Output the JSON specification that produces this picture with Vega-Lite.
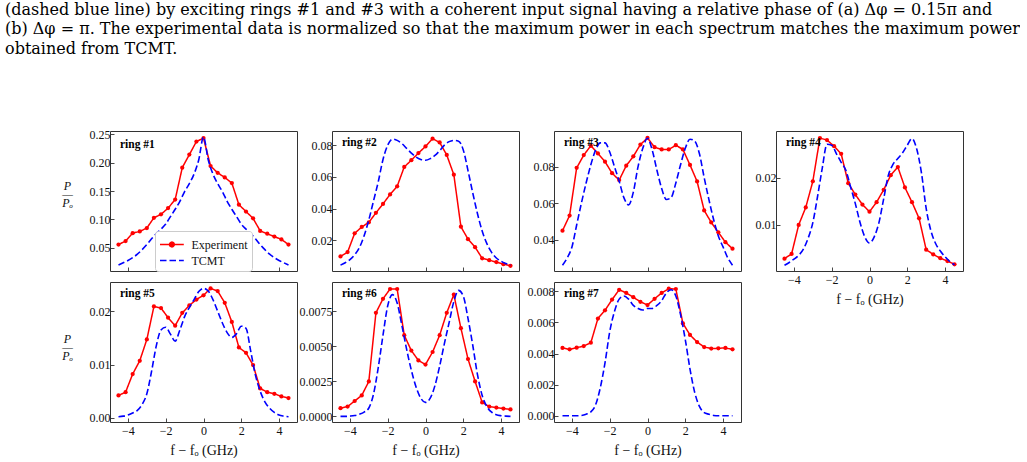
{
  "$schema": "https://vega.github.io/schema/vega-lite/v6.json",
  "background": "white",
  "padding": {"left": 5, "top": 1, "right": 0, "bottom": 0},
  "title": {
    "text": ["(dashed blue line) by exciting rings #1 and #3 with a coherent input signal having a relative phase of (a) Δφ = 0.15π and", "(b) Δφ = π. The experimental data is normalized so that the maximum power in each spectrum matches the maximum power", "obtained from TCMT."],
    "anchor": "start", "frame": "group", "dx": -105, "offset": 55, "baseline": "bottom",
    "font": "DejaVu Serif", "fontSize": 16, "fontWeight": "normal", "lineHeight": 19.5, "color": "#000"
  },
  "columns": 4,
  "align": "none",
  "bounds": "flush",
  "spacing": {"row": 11, "column": 35},
  "datasets": {
    "e1": [{"f":-4.5,"p":0.056,"s":"Experiment"},{"f":-4.125,"p":0.062,"s":"Experiment"},{"f":-3.75,"p":0.076,"s":"Experiment"},{"f":-3.375,"p":0.079,"s":"Experiment"},{"f":-3.0,"p":0.085,"s":"Experiment"},{"f":-2.625,"p":0.103,"s":"Experiment"},{"f":-2.25,"p":0.109,"s":"Experiment"},{"f":-1.875,"p":0.120,"s":"Experiment"},{"f":-1.5,"p":0.135,"s":"Experiment"},{"f":-1.125,"p":0.191,"s":"Experiment"},{"f":-0.75,"p":0.214,"s":"Experiment"},{"f":-0.375,"p":0.237,"s":"Experiment"},{"f":0,"p":0.243,"s":"Experiment"},{"f":0.375,"p":0.194,"s":"Experiment"},{"f":0.75,"p":0.182,"s":"Experiment"},{"f":1.125,"p":0.174,"s":"Experiment"},{"f":1.5,"p":0.164,"s":"Experiment"},{"f":1.875,"p":0.126,"s":"Experiment"},{"f":2.25,"p":0.114,"s":"Experiment"},{"f":2.625,"p":0.102,"s":"Experiment"},{"f":3.0,"p":0.080,"s":"Experiment"},{"f":3.375,"p":0.075,"s":"Experiment"},{"f":3.75,"p":0.070,"s":"Experiment"},{"f":4.125,"p":0.065,"s":"Experiment"},{"f":4.5,"p":0.056,"s":"Experiment"}],
    "t1": [{"f":-4.5,"p":0.020,"s":"TCMT"},{"f":-4.25,"p":0.024,"s":"TCMT"},{"f":-4,"p":0.028,"s":"TCMT"},{"f":-3.75,"p":0.033,"s":"TCMT"},{"f":-3.5,"p":0.039,"s":"TCMT"},{"f":-3.25,"p":0.047,"s":"TCMT"},{"f":-3,"p":0.056,"s":"TCMT"},{"f":-2.75,"p":0.066,"s":"TCMT"},{"f":-2.5,"p":0.075,"s":"TCMT"},{"f":-2.25,"p":0.083,"s":"TCMT"},{"f":-2,"p":0.092,"s":"TCMT"},{"f":-1.75,"p":0.105,"s":"TCMT"},{"f":-1.5,"p":0.118,"s":"TCMT"},{"f":-1.25,"p":0.132,"s":"TCMT"},{"f":-1,"p":0.149,"s":"TCMT"},{"f":-0.75,"p":0.163,"s":"TCMT"},{"f":-0.5,"p":0.180,"s":"TCMT"},{"f":-0.25,"p":0.205,"s":"TCMT"},{"f":0,"p":0.245,"s":"TCMT"},{"f":0.25,"p":0.205,"s":"TCMT"},{"f":0.5,"p":0.180,"s":"TCMT"},{"f":0.75,"p":0.163,"s":"TCMT"},{"f":1,"p":0.149,"s":"TCMT"},{"f":1.25,"p":0.132,"s":"TCMT"},{"f":1.5,"p":0.118,"s":"TCMT"},{"f":1.75,"p":0.105,"s":"TCMT"},{"f":2,"p":0.092,"s":"TCMT"},{"f":2.25,"p":0.083,"s":"TCMT"},{"f":2.5,"p":0.075,"s":"TCMT"},{"f":2.75,"p":0.066,"s":"TCMT"},{"f":3,"p":0.056,"s":"TCMT"},{"f":3.25,"p":0.047,"s":"TCMT"},{"f":3.5,"p":0.039,"s":"TCMT"},{"f":3.75,"p":0.033,"s":"TCMT"},{"f":4,"p":0.028,"s":"TCMT"},{"f":4.25,"p":0.024,"s":"TCMT"},{"f":4.5,"p":0.020,"s":"TCMT"}],
    "e2": [{"f":-4.5,"p":0.010,"s":"Experiment"},{"f":-4.125,"p":0.0127,"s":"Experiment"},{"f":-3.75,"p":0.0245,"s":"Experiment"},{"f":-3.375,"p":0.0285,"s":"Experiment"},{"f":-3.0,"p":0.0314,"s":"Experiment"},{"f":-2.625,"p":0.0374,"s":"Experiment"},{"f":-2.25,"p":0.043,"s":"Experiment"},{"f":-1.875,"p":0.049,"s":"Experiment"},{"f":-1.5,"p":0.0541,"s":"Experiment"},{"f":-1.125,"p":0.0663,"s":"Experiment"},{"f":-0.75,"p":0.0705,"s":"Experiment"},{"f":-0.375,"p":0.075,"s":"Experiment"},{"f":0,"p":0.0792,"s":"Experiment"},{"f":0.375,"p":0.0841,"s":"Experiment"},{"f":0.75,"p":0.0817,"s":"Experiment"},{"f":1.125,"p":0.0738,"s":"Experiment"},{"f":1.5,"p":0.0614,"s":"Experiment"},{"f":1.875,"p":0.0287,"s":"Experiment"},{"f":2.25,"p":0.0208,"s":"Experiment"},{"f":2.625,"p":0.0158,"s":"Experiment"},{"f":3.0,"p":0.0088,"s":"Experiment"},{"f":3.375,"p":0.0076,"s":"Experiment"},{"f":3.75,"p":0.0064,"s":"Experiment"},{"f":4.125,"p":0.0051,"s":"Experiment"},{"f":4.5,"p":0.0041,"s":"Experiment"}],
    "t2": [{"f":-4.5,"p":0.0045,"s":"TCMT"},{"f":-4.25,"p":0.006,"s":"TCMT"},{"f":-4,"p":0.008,"s":"TCMT"},{"f":-3.75,"p":0.011,"s":"TCMT"},{"f":-3.5,"p":0.0155,"s":"TCMT"},{"f":-3.25,"p":0.023,"s":"TCMT"},{"f":-3,"p":0.033,"s":"TCMT"},{"f":-2.75,"p":0.045,"s":"TCMT"},{"f":-2.5,"p":0.057,"s":"TCMT"},{"f":-2.25,"p":0.071,"s":"TCMT"},{"f":-2,"p":0.080,"s":"TCMT"},{"f":-1.75,"p":0.0838,"s":"TCMT"},{"f":-1.5,"p":0.083,"s":"TCMT"},{"f":-1.25,"p":0.081,"s":"TCMT"},{"f":-1,"p":0.078,"s":"TCMT"},{"f":-0.75,"p":0.075,"s":"TCMT"},{"f":-0.5,"p":0.0725,"s":"TCMT"},{"f":-0.25,"p":0.071,"s":"TCMT"},{"f":0,"p":0.0705,"s":"TCMT"},{"f":0.25,"p":0.0715,"s":"TCMT"},{"f":0.5,"p":0.0735,"s":"TCMT"},{"f":0.75,"p":0.0765,"s":"TCMT"},{"f":1,"p":0.080,"s":"TCMT"},{"f":1.25,"p":0.0822,"s":"TCMT"},{"f":1.5,"p":0.083,"s":"TCMT"},{"f":1.75,"p":0.0825,"s":"TCMT"},{"f":2,"p":0.077,"s":"TCMT"},{"f":2.25,"p":0.064,"s":"TCMT"},{"f":2.5,"p":0.050,"s":"TCMT"},{"f":2.75,"p":0.037,"s":"TCMT"},{"f":3,"p":0.026,"s":"TCMT"},{"f":3.25,"p":0.018,"s":"TCMT"},{"f":3.5,"p":0.0125,"s":"TCMT"},{"f":3.75,"p":0.009,"s":"TCMT"},{"f":4,"p":0.007,"s":"TCMT"},{"f":4.25,"p":0.0055,"s":"TCMT"},{"f":4.5,"p":0.0045,"s":"TCMT"}],
    "e3": [{"f":-4.5,"p":0.0449,"s":"Experiment"},{"f":-4.125,"p":0.0532,"s":"Experiment"},{"f":-3.75,"p":0.0793,"s":"Experiment"},{"f":-3.375,"p":0.0863,"s":"Experiment"},{"f":-3.0,"p":0.0914,"s":"Experiment"},{"f":-2.625,"p":0.0872,"s":"Experiment"},{"f":-2.25,"p":0.0827,"s":"Experiment"},{"f":-1.875,"p":0.0764,"s":"Experiment"},{"f":-1.5,"p":0.0726,"s":"Experiment"},{"f":-1.125,"p":0.0805,"s":"Experiment"},{"f":-0.75,"p":0.0856,"s":"Experiment"},{"f":-0.375,"p":0.0921,"s":"Experiment"},{"f":0,"p":0.0957,"s":"Experiment"},{"f":0.375,"p":0.0906,"s":"Experiment"},{"f":0.75,"p":0.0894,"s":"Experiment"},{"f":1.125,"p":0.0894,"s":"Experiment"},{"f":1.5,"p":0.0917,"s":"Experiment"},{"f":1.875,"p":0.0894,"s":"Experiment"},{"f":2.25,"p":0.0809,"s":"Experiment"},{"f":2.625,"p":0.0719,"s":"Experiment"},{"f":3.0,"p":0.056,"s":"Experiment"},{"f":3.375,"p":0.0494,"s":"Experiment"},{"f":3.75,"p":0.044,"s":"Experiment"},{"f":4.125,"p":0.0386,"s":"Experiment"},{"f":4.5,"p":0.035,"s":"Experiment"}],
    "t3": [{"f":-4.5,"p":0.026,"s":"TCMT"},{"f":-4.25,"p":0.030,"s":"TCMT"},{"f":-4,"p":0.036,"s":"TCMT"},{"f":-3.75,"p":0.048,"s":"TCMT"},{"f":-3.5,"p":0.060,"s":"TCMT"},{"f":-3.25,"p":0.071,"s":"TCMT"},{"f":-3,"p":0.081,"s":"TCMT"},{"f":-2.75,"p":0.089,"s":"TCMT"},{"f":-2.5,"p":0.093,"s":"TCMT"},{"f":-2.25,"p":0.093,"s":"TCMT"},{"f":-2,"p":0.088,"s":"TCMT"},{"f":-1.75,"p":0.080,"s":"TCMT"},{"f":-1.5,"p":0.072,"s":"TCMT"},{"f":-1.25,"p":0.063,"s":"TCMT"},{"f":-1,"p":0.059,"s":"TCMT"},{"f":-0.75,"p":0.066,"s":"TCMT"},{"f":-0.5,"p":0.080,"s":"TCMT"},{"f":-0.25,"p":0.090,"s":"TCMT"},{"f":0,"p":0.0955,"s":"TCMT"},{"f":0.25,"p":0.089,"s":"TCMT"},{"f":0.5,"p":0.078,"s":"TCMT"},{"f":0.75,"p":0.068,"s":"TCMT"},{"f":1,"p":0.062,"s":"TCMT"},{"f":1.25,"p":0.063,"s":"TCMT"},{"f":1.5,"p":0.071,"s":"TCMT"},{"f":1.75,"p":0.081,"s":"TCMT"},{"f":2,"p":0.090,"s":"TCMT"},{"f":2.25,"p":0.095,"s":"TCMT"},{"f":2.5,"p":0.094,"s":"TCMT"},{"f":2.75,"p":0.087,"s":"TCMT"},{"f":3,"p":0.074,"s":"TCMT"},{"f":3.25,"p":0.062,"s":"TCMT"},{"f":3.5,"p":0.051,"s":"TCMT"},{"f":3.75,"p":0.042,"s":"TCMT"},{"f":4,"p":0.036,"s":"TCMT"},{"f":4.25,"p":0.030,"s":"TCMT"},{"f":4.5,"p":0.026,"s":"TCMT"}],
    "e4": [{"f":-4.5,"p":0.0029,"s":"Experiment"},{"f":-4.125,"p":0.0039,"s":"Experiment"},{"f":-3.75,"p":0.010,"s":"Experiment"},{"f":-3.375,"p":0.0137,"s":"Experiment"},{"f":-3.0,"p":0.0192,"s":"Experiment"},{"f":-2.625,"p":0.0283,"s":"Experiment"},{"f":-2.25,"p":0.0279,"s":"Experiment"},{"f":-1.875,"p":0.0266,"s":"Experiment"},{"f":-1.5,"p":0.025,"s":"Experiment"},{"f":-1.125,"p":0.0188,"s":"Experiment"},{"f":-0.75,"p":0.0164,"s":"Experiment"},{"f":-0.375,"p":0.0143,"s":"Experiment"},{"f":0,"p":0.0128,"s":"Experiment"},{"f":0.375,"p":0.0148,"s":"Experiment"},{"f":0.75,"p":0.0174,"s":"Experiment"},{"f":1.125,"p":0.0205,"s":"Experiment"},{"f":1.5,"p":0.0222,"s":"Experiment"},{"f":1.875,"p":0.0179,"s":"Experiment"},{"f":2.25,"p":0.0148,"s":"Experiment"},{"f":2.625,"p":0.0114,"s":"Experiment"},{"f":3.0,"p":0.0048,"s":"Experiment"},{"f":3.375,"p":0.0038,"s":"Experiment"},{"f":3.75,"p":0.003,"s":"Experiment"},{"f":4.125,"p":0.0024,"s":"Experiment"},{"f":4.5,"p":0.0017,"s":"Experiment"}],
    "t4": [{"f":-4.5,"p":0.0015,"s":"TCMT"},{"f":-4.25,"p":0.0021,"s":"TCMT"},{"f":-4,"p":0.0028,"s":"TCMT"},{"f":-3.75,"p":0.0036,"s":"TCMT"},{"f":-3.5,"p":0.0049,"s":"TCMT"},{"f":-3.25,"p":0.0072,"s":"TCMT"},{"f":-3,"p":0.0105,"s":"TCMT"},{"f":-2.75,"p":0.016,"s":"TCMT"},{"f":-2.5,"p":0.022,"s":"TCMT"},{"f":-2.25,"p":0.027,"s":"TCMT"},{"f":-2,"p":0.0268,"s":"TCMT"},{"f":-1.75,"p":0.025,"s":"TCMT"},{"f":-1.5,"p":0.0232,"s":"TCMT"},{"f":-1.25,"p":0.0215,"s":"TCMT"},{"f":-1,"p":0.018,"s":"TCMT"},{"f":-0.75,"p":0.0145,"s":"TCMT"},{"f":-0.5,"p":0.0105,"s":"TCMT"},{"f":-0.25,"p":0.0075,"s":"TCMT"},{"f":0,"p":0.0062,"s":"TCMT"},{"f":0.25,"p":0.0075,"s":"TCMT"},{"f":0.5,"p":0.0105,"s":"TCMT"},{"f":0.75,"p":0.0155,"s":"TCMT"},{"f":1,"p":0.0205,"s":"TCMT"},{"f":1.25,"p":0.0228,"s":"TCMT"},{"f":1.5,"p":0.024,"s":"TCMT"},{"f":1.75,"p":0.0252,"s":"TCMT"},{"f":2,"p":0.0268,"s":"TCMT"},{"f":2.25,"p":0.0282,"s":"TCMT"},{"f":2.5,"p":0.026,"s":"TCMT"},{"f":2.75,"p":0.021,"s":"TCMT"},{"f":3,"p":0.0135,"s":"TCMT"},{"f":3.25,"p":0.0088,"s":"TCMT"},{"f":3.5,"p":0.0061,"s":"TCMT"},{"f":3.75,"p":0.0045,"s":"TCMT"},{"f":4,"p":0.0033,"s":"TCMT"},{"f":4.25,"p":0.0023,"s":"TCMT"},{"f":4.5,"p":0.0016,"s":"TCMT"}],
    "e5": [{"f":-4.5,"p":0.0042,"s":"Experiment"},{"f":-4.125,"p":0.0048,"s":"Experiment"},{"f":-3.75,"p":0.0082,"s":"Experiment"},{"f":-3.375,"p":0.0107,"s":"Experiment"},{"f":-3.0,"p":0.0147,"s":"Experiment"},{"f":-2.625,"p":0.0209,"s":"Experiment"},{"f":-2.25,"p":0.0206,"s":"Experiment"},{"f":-1.875,"p":0.0188,"s":"Experiment"},{"f":-1.5,"p":0.0173,"s":"Experiment"},{"f":-1.125,"p":0.0197,"s":"Experiment"},{"f":-0.75,"p":0.0211,"s":"Experiment"},{"f":-0.375,"p":0.0222,"s":"Experiment"},{"f":0,"p":0.023,"s":"Experiment"},{"f":0.375,"p":0.0243,"s":"Experiment"},{"f":0.75,"p":0.0238,"s":"Experiment"},{"f":1.125,"p":0.0216,"s":"Experiment"},{"f":1.5,"p":0.018,"s":"Experiment"},{"f":1.875,"p":0.0132,"s":"Experiment"},{"f":2.25,"p":0.0122,"s":"Experiment"},{"f":2.625,"p":0.0099,"s":"Experiment"},{"f":3.0,"p":0.0055,"s":"Experiment"},{"f":3.375,"p":0.0048,"s":"Experiment"},{"f":3.75,"p":0.0045,"s":"Experiment"},{"f":4.125,"p":0.004,"s":"Experiment"},{"f":4.5,"p":0.0037,"s":"Experiment"}],
    "t5": [{"f":-4.5,"p":0.0002,"s":"TCMT"},{"f":-4.25,"p":0.0003,"s":"TCMT"},{"f":-4,"p":0.0005,"s":"TCMT"},{"f":-3.75,"p":0.0009,"s":"TCMT"},{"f":-3.5,"p":0.0014,"s":"TCMT"},{"f":-3.25,"p":0.0025,"s":"TCMT"},{"f":-3,"p":0.0045,"s":"TCMT"},{"f":-2.75,"p":0.0087,"s":"TCMT"},{"f":-2.5,"p":0.0135,"s":"TCMT"},{"f":-2.25,"p":0.0165,"s":"TCMT"},{"f":-2,"p":0.0170,"s":"TCMT"},{"f":-1.75,"p":0.0157,"s":"TCMT"},{"f":-1.5,"p":0.0144,"s":"TCMT"},{"f":-1.25,"p":0.0165,"s":"TCMT"},{"f":-1,"p":0.0190,"s":"TCMT"},{"f":-0.75,"p":0.0207,"s":"TCMT"},{"f":-0.5,"p":0.0222,"s":"TCMT"},{"f":-0.25,"p":0.0237,"s":"TCMT"},{"f":0,"p":0.0243,"s":"TCMT"},{"f":0.25,"p":0.0238,"s":"TCMT"},{"f":0.5,"p":0.0222,"s":"TCMT"},{"f":0.75,"p":0.0200,"s":"TCMT"},{"f":1,"p":0.0178,"s":"TCMT"},{"f":1.25,"p":0.0160,"s":"TCMT"},{"f":1.5,"p":0.0151,"s":"TCMT"},{"f":1.75,"p":0.0158,"s":"TCMT"},{"f":2,"p":0.0172,"s":"TCMT"},{"f":2.25,"p":0.0168,"s":"TCMT"},{"f":2.5,"p":0.0125,"s":"TCMT"},{"f":2.75,"p":0.0080,"s":"TCMT"},{"f":3,"p":0.0050,"s":"TCMT"},{"f":3.25,"p":0.0030,"s":"TCMT"},{"f":3.5,"p":0.0018,"s":"TCMT"},{"f":3.75,"p":0.0010,"s":"TCMT"},{"f":4,"p":0.0005,"s":"TCMT"},{"f":4.25,"p":0.0003,"s":"TCMT"},{"f":4.5,"p":0.0002,"s":"TCMT"}],
    "e6": [{"f":-4.5,"p":0.00059,"s":"Experiment"},{"f":-4.125,"p":0.0007,"s":"Experiment"},{"f":-3.75,"p":0.0011,"s":"Experiment"},{"f":-3.375,"p":0.0015,"s":"Experiment"},{"f":-3.0,"p":0.0025,"s":"Experiment"},{"f":-2.625,"p":0.0074,"s":"Experiment"},{"f":-2.25,"p":0.0084,"s":"Experiment"},{"f":-1.875,"p":0.0091,"s":"Experiment"},{"f":-1.5,"p":0.0091,"s":"Experiment"},{"f":-1.125,"p":0.0058,"s":"Experiment"},{"f":-0.75,"p":0.0047,"s":"Experiment"},{"f":-0.375,"p":0.004,"s":"Experiment"},{"f":0,"p":0.0037,"s":"Experiment"},{"f":0.375,"p":0.0046,"s":"Experiment"},{"f":0.75,"p":0.0058,"s":"Experiment"},{"f":1.125,"p":0.0074,"s":"Experiment"},{"f":1.5,"p":0.0087,"s":"Experiment"},{"f":1.875,"p":0.0063,"s":"Experiment"},{"f":2.25,"p":0.0041,"s":"Experiment"},{"f":2.625,"p":0.0025,"s":"Experiment"},{"f":3.0,"p":0.001,"s":"Experiment"},{"f":3.375,"p":0.0007,"s":"Experiment"},{"f":3.75,"p":0.00063,"s":"Experiment"},{"f":4.125,"p":0.00056,"s":"Experiment"},{"f":4.5,"p":0.0005,"s":"Experiment"}],
    "t6": [{"f":-4.5,"p":0.0,"s":"TCMT"},{"f":-4.25,"p":0.0,"s":"TCMT"},{"f":-4,"p":0.00002,"s":"TCMT"},{"f":-3.75,"p":0.00006,"s":"TCMT"},{"f":-3.5,"p":0.00015,"s":"TCMT"},{"f":-3.25,"p":0.0003,"s":"TCMT"},{"f":-3,"p":0.0006,"s":"TCMT"},{"f":-2.75,"p":0.0016,"s":"TCMT"},{"f":-2.5,"p":0.0035,"s":"TCMT"},{"f":-2.25,"p":0.0058,"s":"TCMT"},{"f":-2,"p":0.0079,"s":"TCMT"},{"f":-1.75,"p":0.0087,"s":"TCMT"},{"f":-1.5,"p":0.0081,"s":"TCMT"},{"f":-1.25,"p":0.0065,"s":"TCMT"},{"f":-1,"p":0.0048,"s":"TCMT"},{"f":-0.75,"p":0.0033,"s":"TCMT"},{"f":-0.5,"p":0.0021,"s":"TCMT"},{"f":-0.25,"p":0.0013,"s":"TCMT"},{"f":0,"p":0.0010,"s":"TCMT"},{"f":0.25,"p":0.0013,"s":"TCMT"},{"f":0.5,"p":0.0022,"s":"TCMT"},{"f":0.75,"p":0.0036,"s":"TCMT"},{"f":1,"p":0.0052,"s":"TCMT"},{"f":1.25,"p":0.0067,"s":"TCMT"},{"f":1.5,"p":0.0082,"s":"TCMT"},{"f":1.75,"p":0.0090,"s":"TCMT"},{"f":2,"p":0.0086,"s":"TCMT"},{"f":2.25,"p":0.0070,"s":"TCMT"},{"f":2.5,"p":0.0051,"s":"TCMT"},{"f":2.75,"p":0.0030,"s":"TCMT"},{"f":3,"p":0.0015,"s":"TCMT"},{"f":3.25,"p":0.0007,"s":"TCMT"},{"f":3.5,"p":0.0003,"s":"TCMT"},{"f":3.75,"p":0.00012,"s":"TCMT"},{"f":4,"p":0.00005,"s":"TCMT"},{"f":4.25,"p":0.00002,"s":"TCMT"},{"f":4.5,"p":0.0,"s":"TCMT"}],
    "e7": [{"f":-4.5,"p":0.00436,"s":"Experiment"},{"f":-4.125,"p":0.00427,"s":"Experiment"},{"f":-3.75,"p":0.00438,"s":"Experiment"},{"f":-3.375,"p":0.00448,"s":"Experiment"},{"f":-3.0,"p":0.0047,"s":"Experiment"},{"f":-2.625,"p":0.00625,"s":"Experiment"},{"f":-2.25,"p":0.00678,"s":"Experiment"},{"f":-1.875,"p":0.00747,"s":"Experiment"},{"f":-1.5,"p":0.0081,"s":"Experiment"},{"f":-1.125,"p":0.0079,"s":"Experiment"},{"f":-0.75,"p":0.00762,"s":"Experiment"},{"f":-0.375,"p":0.00733,"s":"Experiment"},{"f":0,"p":0.00712,"s":"Experiment"},{"f":0.375,"p":0.00752,"s":"Experiment"},{"f":0.75,"p":0.0079,"s":"Experiment"},{"f":1.125,"p":0.00817,"s":"Experiment"},{"f":1.5,"p":0.00815,"s":"Experiment"},{"f":1.875,"p":0.00594,"s":"Experiment"},{"f":2.25,"p":0.0052,"s":"Experiment"},{"f":2.625,"p":0.00474,"s":"Experiment"},{"f":3.0,"p":0.00442,"s":"Experiment"},{"f":3.375,"p":0.00432,"s":"Experiment"},{"f":3.75,"p":0.00434,"s":"Experiment"},{"f":4.125,"p":0.00436,"s":"Experiment"},{"f":4.5,"p":0.00427,"s":"Experiment"}],
    "t7": [{"f":-4.5,"p":0.0,"s":"TCMT"},{"f":-4.25,"p":0.0,"s":"TCMT"},{"f":-4,"p":0.0,"s":"TCMT"},{"f":-3.75,"p":0.0,"s":"TCMT"},{"f":-3.5,"p":0.00002,"s":"TCMT"},{"f":-3.25,"p":0.0001,"s":"TCMT"},{"f":-3,"p":0.00025,"s":"TCMT"},{"f":-2.75,"p":0.0007,"s":"TCMT"},{"f":-2.5,"p":0.0018,"s":"TCMT"},{"f":-2.25,"p":0.0034,"s":"TCMT"},{"f":-2,"p":0.0054,"s":"TCMT"},{"f":-1.75,"p":0.0067,"s":"TCMT"},{"f":-1.5,"p":0.0075,"s":"TCMT"},{"f":-1.25,"p":0.0077,"s":"TCMT"},{"f":-1,"p":0.0075,"s":"TCMT"},{"f":-0.75,"p":0.0071,"s":"TCMT"},{"f":-0.5,"p":0.0069,"s":"TCMT"},{"f":-0.25,"p":0.0068,"s":"TCMT"},{"f":0,"p":0.0069,"s":"TCMT"},{"f":0.25,"p":0.0069,"s":"TCMT"},{"f":0.5,"p":0.0071,"s":"TCMT"},{"f":0.75,"p":0.0074,"s":"TCMT"},{"f":1,"p":0.0079,"s":"TCMT"},{"f":1.25,"p":0.0081,"s":"TCMT"},{"f":1.5,"p":0.0077,"s":"TCMT"},{"f":1.75,"p":0.0065,"s":"TCMT"},{"f":2,"p":0.0049,"s":"TCMT"},{"f":2.25,"p":0.0030,"s":"TCMT"},{"f":2.5,"p":0.0015,"s":"TCMT"},{"f":2.75,"p":0.0006,"s":"TCMT"},{"f":3,"p":0.0002,"s":"TCMT"},{"f":3.25,"p":0.0001,"s":"TCMT"},{"f":3.5,"p":0.00002,"s":"TCMT"},{"f":3.75,"p":0.0,"s":"TCMT"},{"f":4,"p":0.0,"s":"TCMT"},{"f":4.25,"p":0.0,"s":"TCMT"},{"f":4.5,"p":0.0,"s":"TCMT"}]
  },
  "concat": [
    {
      "width": 187, "height": 140,
      "title": {"text": "ring #1", "offset": -22.6},
      "encoding": {
        "x": {"field": "f", "type": "quantitative", "scale": {"domain": [-4.95, 4.95], "nice": false, "zero": false}, "axis": {"values": [-4, -2, 0, 2, 4], "labels": false, "title": null}},
        "y": {"field": "p", "type": "quantitative", "scale": {"domain": [0.0095, 0.2555], "nice": false, "zero": false}, "axis": {"values": [0.05, 0.1, 0.15, 0.2, 0.25], "format": ".2f", "title": ["P", "—", "Pₒ"], "titleAngle": 0, "titleAlign": "center", "titleBaseline": "middle", "titleX": -43, "titleY": 54, "titleFontStyle": "italic", "titleFontSize": 12, "titleLineHeight": 8.5}},
        "color": {"field": "s", "type": "nominal", "title": null, "scale": {"domain": ["Experiment", "TCMT"], "range": ["#ff0000", "#0000ff"]},
          "legend": {"orient": "none", "legendX": 45, "legendY": 100, "symbolSize": 289, "symbolStrokeWidth": 1.5, "labelFont": "Liberation Serif", "labelFontSize": 12, "labelColor": "#111", "labelOffset": 13.5, "rowPadding": 0, "padding": 4, "fillColor": "white", "strokeColor": "#cccccc", "cornerRadius": 3,
            "encode": {"symbols": {"update": {"shape": {"signal": "datum.value === 'Experiment' ? 'M-1,0L1.8,0M0.68,0A0.28,0.28,0,1,1,0.12,0A0.28,0.28,0,1,1,0.68,0' : 'M-1,0L1.8,0'"}, "fill": {"signal": "datum.value === 'Experiment' ? '#ff0000' : 'transparent'"}}}}}},
        "strokeDash": {"field": "s", "type": "nominal", "title": null, "scale": {"domain": ["Experiment", "TCMT"], "range": [[1, 0], [6.5, 3]]}}
      },
      "layer": [
        {"data": {"name": "e1"}, "mark": {"type": "line", "strokeWidth": 1.5, "point": {"filled": true, "size": 18}}},
        {"data": {"name": "t1"}, "mark": {"type": "line", "strokeWidth": 1.6, "interpolate": "monotone"}}
      ]
    },
    {
      "width": 187, "height": 140,
      "title": {"text": "ring #2"},
      "encoding": {
        "x": {"field": "f", "type": "quantitative", "scale": {"domain": [-4.95, 4.95], "nice": false, "zero": false}, "axis": {"values": [-4, -2, 0, 2, 4], "labels": false, "title": null}},
        "y": {"field": "p", "type": "quantitative", "scale": {"domain": [0.0008, 0.0889], "nice": false, "zero": false}, "axis": {"values": [0.02, 0.04, 0.06, 0.08], "format": ".2f", "title": null}},
        "color": {"field": "s", "type": "nominal", "title": null, "scale": {"domain": ["Experiment", "TCMT"], "range": ["#ff0000", "#0000ff"]}},
        "strokeDash": {"field": "s", "type": "nominal", "title": null, "scale": {"domain": ["Experiment", "TCMT"], "range": [[1, 0], [6.5, 3]]}}
      },
      "layer": [
        {"data": {"name": "e2"}, "mark": {"type": "line", "strokeWidth": 1.5, "point": {"filled": true, "size": 18}}},
        {"data": {"name": "t2"}, "mark": {"type": "line", "strokeWidth": 1.6, "interpolate": "monotone"}}
      ]
    },
    {
      "width": 187, "height": 140,
      "title": {"text": "ring #3"},
      "encoding": {
        "x": {"field": "f", "type": "quantitative", "scale": {"domain": [-4.95, 4.95], "nice": false, "zero": false}, "axis": {"values": [-4, -2, 0, 2, 4], "labels": false, "title": null}},
        "y": {"field": "p", "type": "quantitative", "scale": {"domain": [0.0228, 0.0995], "nice": false, "zero": false}, "axis": {"values": [0.04, 0.06, 0.08], "format": ".2f", "title": null}},
        "color": {"field": "s", "type": "nominal", "title": null, "scale": {"domain": ["Experiment", "TCMT"], "range": ["#ff0000", "#0000ff"]}},
        "strokeDash": {"field": "s", "type": "nominal", "title": null, "scale": {"domain": ["Experiment", "TCMT"], "range": [[1, 0], [6.5, 3]]}}
      },
      "layer": [
        {"data": {"name": "e3"}, "mark": {"type": "line", "strokeWidth": 1.5, "point": {"filled": true, "size": 18}}},
        {"data": {"name": "t3"}, "mark": {"type": "line", "strokeWidth": 1.6, "interpolate": "monotone"}}
      ]
    },
    {
      "width": 187, "height": 140,
      "title": {"text": "ring #4"},
      "encoding": {
        "x": {"field": "f", "type": "quantitative", "scale": {"domain": [-4.95, 4.95], "nice": false, "zero": false}, "axis": {"values": [-4, -2, 0, 2, 4], "format": "d", "title": "f − fₒ (GHz)"}},
        "y": {"field": "p", "type": "quantitative", "scale": {"domain": [0.0003, 0.0298], "nice": false, "zero": false}, "axis": {"values": [0.01, 0.02], "format": ".2f", "title": null}},
        "color": {"field": "s", "type": "nominal", "title": null, "scale": {"domain": ["Experiment", "TCMT"], "range": ["#ff0000", "#0000ff"]}},
        "strokeDash": {"field": "s", "type": "nominal", "title": null, "scale": {"domain": ["Experiment", "TCMT"], "range": [[1, 0], [6.5, 3]]}}
      },
      "layer": [
        {"data": {"name": "e4"}, "mark": {"type": "line", "strokeWidth": 1.5, "point": {"filled": true, "size": 18}}},
        {"data": {"name": "t4"}, "mark": {"type": "line", "strokeWidth": 1.6, "interpolate": "monotone"}}
      ]
    },
    {
      "width": 187, "height": 140,
      "title": {"text": "ring #5"},
      "encoding": {
        "x": {"field": "f", "type": "quantitative", "scale": {"domain": [-4.95, 4.95], "nice": false, "zero": false}, "axis": {"values": [-4, -2, 0, 2, 4], "format": "d", "title": "f − fₒ (GHz)"}},
        "y": {"field": "p", "type": "quantitative", "scale": {"domain": [-0.0008, 0.0255], "nice": false, "zero": false}, "axis": {"values": [0, 0.01, 0.02], "format": ".2f", "title": ["P", "—", "Pₒ"], "titleAngle": 0, "titleAlign": "center", "titleBaseline": "middle", "titleX": -43, "titleY": 56, "titleFontStyle": "italic", "titleFontSize": 12, "titleLineHeight": 8.5}},
        "color": {"field": "s", "type": "nominal", "title": null, "scale": {"domain": ["Experiment", "TCMT"], "range": ["#ff0000", "#0000ff"]}},
        "strokeDash": {"field": "s", "type": "nominal", "title": null, "scale": {"domain": ["Experiment", "TCMT"], "range": [[1, 0], [6.5, 3]]}}
      },
      "layer": [
        {"data": {"name": "e5"}, "mark": {"type": "line", "strokeWidth": 1.5, "point": {"filled": true, "size": 18}}},
        {"data": {"name": "t5"}, "mark": {"type": "line", "strokeWidth": 1.6, "interpolate": "monotone"}}
      ]
    },
    {
      "width": 187, "height": 140,
      "title": {"text": "ring #6"},
      "encoding": {
        "x": {"field": "f", "type": "quantitative", "scale": {"domain": [-4.95, 4.95], "nice": false, "zero": false}, "axis": {"values": [-4, -2, 0, 2, 4], "format": "d", "title": "f − fₒ (GHz)"}},
        "y": {"field": "p", "type": "quantitative", "scale": {"domain": [-0.0004, 0.0096], "nice": false, "zero": false}, "axis": {"values": [0, 0.0025, 0.005, 0.0075], "format": ".4f", "title": null}},
        "color": {"field": "s", "type": "nominal", "title": null, "scale": {"domain": ["Experiment", "TCMT"], "range": ["#ff0000", "#0000ff"]}},
        "strokeDash": {"field": "s", "type": "nominal", "title": null, "scale": {"domain": ["Experiment", "TCMT"], "range": [[1, 0], [6.5, 3]]}}
      },
      "layer": [
        {"data": {"name": "e6"}, "mark": {"type": "line", "strokeWidth": 1.5, "point": {"filled": true, "size": 18}}},
        {"data": {"name": "t6"}, "mark": {"type": "line", "strokeWidth": 1.6, "interpolate": "monotone"}}
      ]
    },
    {
      "width": 187, "height": 140,
      "title": {"text": "ring #7"},
      "encoding": {
        "x": {"field": "f", "type": "quantitative", "scale": {"domain": [-4.95, 4.95], "nice": false, "zero": false}, "axis": {"values": [-4, -2, 0, 2, 4], "format": "d", "title": "f − fₒ (GHz)"}},
        "y": {"field": "p", "type": "quantitative", "scale": {"domain": [-0.0004, 0.0086], "nice": false, "zero": false}, "axis": {"values": [0, 0.002, 0.004, 0.006, 0.008], "format": ".3f", "title": null}},
        "color": {"field": "s", "type": "nominal", "title": null, "scale": {"domain": ["Experiment", "TCMT"], "range": ["#ff0000", "#0000ff"]}},
        "strokeDash": {"field": "s", "type": "nominal", "title": null, "scale": {"domain": ["Experiment", "TCMT"], "range": [[1, 0], [6.5, 3]]}}
      },
      "layer": [
        {"data": {"name": "e7"}, "mark": {"type": "line", "strokeWidth": 1.5, "point": {"filled": true, "size": 18}}},
        {"data": {"name": "t7"}, "mark": {"type": "line", "strokeWidth": 1.6, "interpolate": "monotone"}}
      ]
    }
  ],
  "config": {
    "view": {"stroke": "#333", "strokeWidth": 1},
    "axis": {"grid": false, "domain": false, "tickSize": -4, "tickColor": "#333", "tickWidth": 0.9, "labelFlush": false, "labelFont": "Liberation Serif", "labelFontSize": 12, "labelColor": "#111", "titleFont": "Liberation Serif", "titleFontSize": 14, "titleFontWeight": "normal", "titleColor": "#111"},
    "axisX": {"labelPadding": 7, "titlePadding": 7},
    "axisY": {"labelPadding": 4},
    "title": {"anchor": "start", "frame": "group", "offset": -17.6, "dx": 10, "baseline": "top", "font": "Liberation Serif", "fontSize": 11.5, "fontWeight": "bold", "color": "#000"}
  }
}
